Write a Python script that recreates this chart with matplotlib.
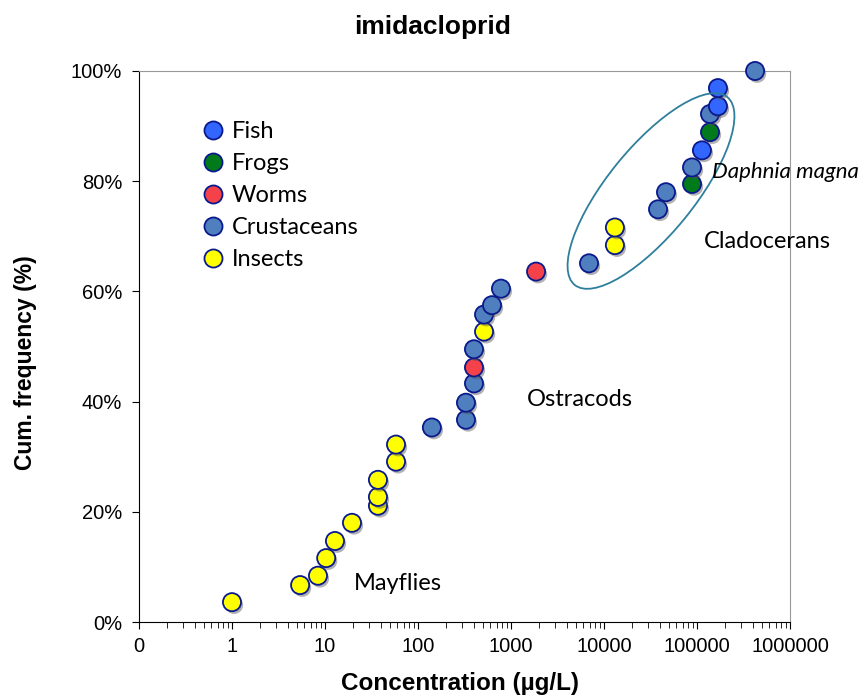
import numpy as np
import matplotlib
matplotlib.use('Agg')
import matplotlib.pyplot as plt
import matplotlib.patheffects as pe
from matplotlib.patches import Ellipse
from matplotlib.lines import Line2D

# concentrations (ug/L) and cumulative frequency (%) per group
fish_x = [113000, 168000, 168000]
fish_y = [85.6, 93.6, 96.9]
frogs_x = [88400, 138000]
frogs_y = [79.5, 88.9]
worms_x = [400, 1860]
worms_y = [46.2, 63.6]
crust_x = [141, 328, 328, 400, 400, 513, 625, 780, 6900, 38100, 46400,
           88400, 138000, 421000]
crust_y = [35.3, 36.7, 39.8, 43.3, 49.5, 55.8, 57.5, 60.5, 65.1, 74.9, 78.0,
           82.5, 92.2, 100.0]
insect_x = [1.0, 5.4, 8.4, 10.3, 12.8, 19.5, 37.1, 37.1, 37.1, 58, 58,
            513, 13100, 13100]
insect_y = [3.6, 6.7, 8.4, 11.6, 14.7, 18.0, 21.1, 22.7, 25.8, 29.1, 32.2,
            52.7, 68.4, 71.6]

groups = ['Fish', 'Frogs', 'Worms', 'Crustaceans', 'Insects']
colors = ['#3366ff', '#007a1a', '#f5424a', '#4f7fbf', '#ffff00']
edge = '#0a1a8c'

xticks = [0.1, 1, 10, 100, 1000, 10000, 100000, 1000000]
xticklabels = ['0', '1', '10', '100', '1000', '10000', '100000', '1000000']
yticks = [0, 20, 40, 60, 80, 100]

fig = plt.figure(figsize=(8.63, 6.97), dpi=100)
ax = fig.add_axes([139/863, 1-622/697, 651/863, 551/697])

shadow = [pe.SimplePatchShadow(offset=(1.5, -2), shadow_rgbFace='#555555', alpha=0.45), pe.Normal()]
data = [(fish_x, fish_y), (frogs_x, frogs_y), (worms_x, worms_y),
        (crust_x, crust_y), (insect_x, insect_y)]
# draw in order of frequency so overlaps look like the original
allx, ally, allc = [], [], []
for (xs, ys), c in zip(data, colors):
    allx += xs
    ally += ys
    allc += [c] * len(xs)
order = np.argsort(np.array(ally))
for i in order:
    ax.scatter(allx[i], ally[i], s=170, c=allc[i], edgecolors=edge,
               linewidths=1.3, zorder=3, clip_on=False, path_effects=shadow)

ax.set_xscale('log')
ax.set_xlim(0.1, 1000000)
ax.set_ylim(0, 100)
ax.set_xticks(xticks)
ax.set_xticklabels(xticklabels)
ax.set_yticks(yticks)
ax.set_yticklabels([f'{v}%' for v in yticks])
ax.tick_params(axis='both', labelsize=14.5, direction='out', color='black')
ax.tick_params(axis='x', which='major', length=5, pad=6)
ax.tick_params(axis='x', which='minor', length=4)
ax.tick_params(axis='y', length=5, pad=7)
for lab in ax.get_xticklabels() + ax.get_yticklabels():
    lab.set_family('Liberation Sans')

ax.spines['top'].set_color('#999999')
ax.spines['right'].set_color('#999999')
ax.spines['left'].set_color('black')
ax.spines['bottom'].set_color('black')

fig.text(433/863, 1-27/697, 'imidacloprid', fontsize=19, fontweight='bold',
         family='Liberation Sans', ha='center', va='center')
ax.set_xlabel('Concentration (µg/L)', fontsize=17.5, fontweight='bold', family='Liberation Sans')
ax.xaxis.set_label_coords(0.493, -0.09)
ax.set_ylabel('Cum. frequency (%)', fontsize=16.5, fontweight='bold', family='Liberation Sans')
ax.yaxis.set_label_coords(-0.157, 0.47)

handles = [Line2D([], [], marker='o', ls='', markersize=13, markerfacecolor=c,
                  markeredgecolor=edge, markeredgewidth=1.3) for c in colors]
leg = ax.legend(handles, groups, loc='upper left', bbox_to_anchor=(0.059, 0.947),
                frameon=False, handletextpad=0.2, labelspacing=0.46,
                prop={'family': 'Lato', 'size': 17}, handlelength=1.2)

# ellipse around cladocerans, drawn in figure inches
ell = Ellipse(((651)/100, (697-191)/100), 2.42, 0.87, angle=50.9,
              transform=fig.dpi_scale_trans, fill=False, edgecolor='#2e7f9c', lw=1.3, zorder=2)
fig.add_artist(ell)

fig.text(712/863, 1-172/697, 'Daphnia magna', fontsize=16, style='italic', family='Lato', va='center')
fig.text(704/863, 1-242/697, 'Cladocerans', fontsize=17, family='Lato', va='center')
fig.text(527/863, 1-399/697, 'Ostracods', fontsize=17, family='Lato', va='center')
fig.text(354/863, 1-584/697, 'Mayflies', fontsize=17, family='Lato', va='center')

fig.savefig('out.png', dpi=100)
